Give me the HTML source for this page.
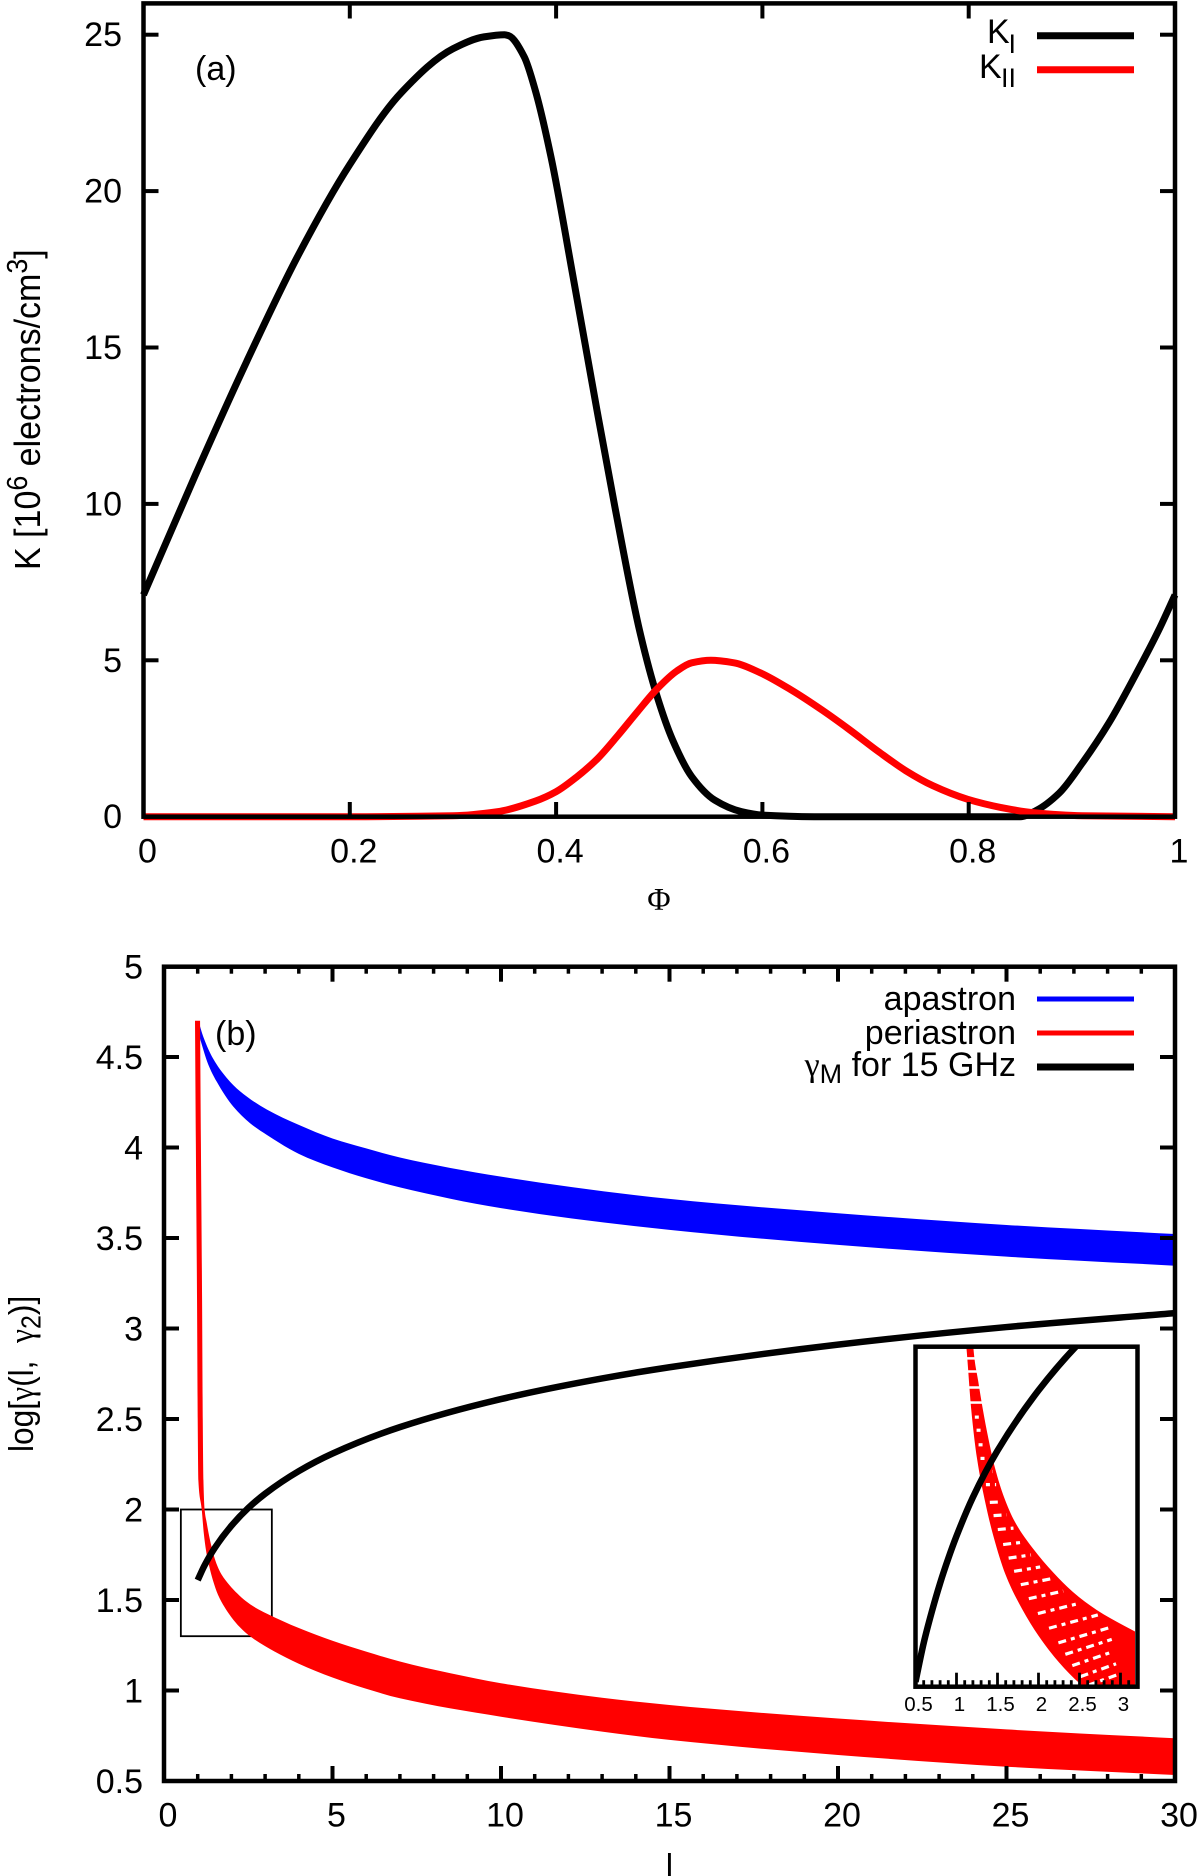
<!DOCTYPE html>
<html>
<head>
<meta charset="utf-8">
<title>K and gamma chart</title>
<style>
html,body{margin:0;padding:0;background:#fff;width:1200px;height:1876px;overflow:hidden}
svg{display:block}
text{font-family:"Liberation Sans","DejaVu Sans",sans-serif;fill:#000}
</style>
</head>
<body>
<svg id="chart" xmlns="http://www.w3.org/2000/svg" width="1200" height="1876" viewBox="0 0 1200 1876">
  <rect x="0" y="0" width="1200" height="1876" fill="#fff"/>
  <g id="panelA"></g>
  <g id="panelB"></g>
  <g id="inset"></g>

  <text transform="translate(40,570) rotate(-90) scale(1.03,1.1)" font-size="33">K [10<tspan font-size="26" dy="-12">6</tspan><tspan dy="12"> electrons/cm</tspan><tspan font-size="26" dy="-12">3</tspan><tspan dy="12">]</tspan></text>
  <text x="659" y="910" font-size="32" text-anchor="middle" style="font-family:'Liberation Serif',serif">Φ</text>
  <text x="195" y="80" font-size="34">(a)</text>
  <text x="987" y="43" font-size="34">K</text>
  <text x="1016" y="53" font-size="27" text-anchor="end">I</text>
  <text x="979" y="78" font-size="34">K</text>
  <text x="1016" y="87" font-size="27" text-anchor="end">II</text>
  <line x1="1037" x2="1134" y1="35.7" y2="35.7" stroke="#000" stroke-width="7"/>
  <line x1="1037" x2="1134" y1="69.7" y2="69.7" stroke="#f00" stroke-width="7"/>

  <text transform="translate(33,1452) rotate(-90) scale(0.96,1.05)" font-size="33" xml:space="preserve">log[<tspan style="font-family:'Liberation Serif',serif">γ</tspan>(l,  <tspan style="font-family:'Liberation Serif',serif">γ</tspan><tspan font-size="26" dy="7">2</tspan><tspan dy="-7">)]</tspan></text>
  <text x="669.4" y="1877" font-size="33" text-anchor="middle">l</text>
  <text x="215" y="1045" font-size="34">(b)</text>
  <text x="1016" y="1010" font-size="34" text-anchor="end">apastron</text>
  <text x="1016" y="1044" font-size="34" text-anchor="end">periastron</text>
  <text x="1016" y="1076" font-size="34" text-anchor="end"><tspan style="font-family:'Liberation Serif',serif">γ</tspan><tspan font-size="27" dy="7">M</tspan><tspan dy="-7"> for 15 GHz</tspan></text>
  <line x1="1037" x2="1134" y1="999" y2="999" stroke="#00f" stroke-width="5"/>
  <line x1="1037" x2="1134" y1="1033" y2="1033" stroke="#f00" stroke-width="5"/>
  <line x1="1037" x2="1134" y1="1067" y2="1067" stroke="#000" stroke-width="7"/>
</svg>
<script>
// Panel (a) data
const phaseK1 = [0,0.05,0.1,0.15,0.2,0.25,0.3,0.33,0.35,0.354,0.369,0.38,0.395,0.417,0.4396,0.457,0.4815,0.498,0.513,0.5315,0.5538,0.5798,0.6,0.65,0.7,0.8,0.85,0.8655,0.8876,0.9098,0.936,0.962,0.984,1];
const valuesK1 = [7.09,10.9,14.55,17.95,20.85,23.15,24.55,24.93,25,24.97,24.3,23.2,21.1,17.16,13.0,9.9,5.87,3.84,2.45,1.28,0.53,0.16,0.05,0,0,0,0,0.2,0.75,1.7,3.0,4.55,5.95,7.09];
const phaseK2 = [0,0.1,0.2,0.3,0.343,0.38,0.4,0.42,0.44,0.46,0.479,0.498,0.5167,0.5315,0.55,0.5724,0.598,0.628,0.6578,0.6837,0.713,0.739,0.7653,0.7987,0.832,0.862,0.91,1];
const valuesK2 = [0,0,0,0.03,0.16,0.5,0.8,1.27,1.85,2.6,3.36,4.09,4.65,4.92,5,4.92,4.6,4.05,3.41,2.8,2.07,1.47,0.99,0.56,0.29,0.13,0.03,0];
const panelAXTicks = [0,0.2,0.4,0.6,0.8,1];
const panelAYTicks = [0,5,10,15,20,25];

// Panel (b) data
const apastronUpperL = [1.02,1.17,1.46,1.86,2.26,3.05,4,5,6,7,10,15,20,25,30];
const apastronUpperV = [4.7,4.61,4.49,4.385,4.31,4.21,4.125,4.05,3.995,3.945,3.839,3.716,3.637,3.572,3.522];
const apastronLowerL = [1.07,1.31,1.56,2.06,2.55,3.05,4,5,6,7,10,15,20,25,30];
const apastronLowerV = [4.6,4.46,4.365,4.225,4.135,4.07,3.965,3.89,3.83,3.78,3.665,3.545,3.462,3.397,3.347];
const periUpperL = [1.07,1.10,1.13,1.15,1.17,1.21,1.264,1.317,1.39,1.47,1.58,1.71,1.93,2.18,2.42,2.71,3.05,4,5,6,7,8.5,10,13,15,17.5,20,25,30];
const periUpperV = [4.7,3.9,3.16,2.5,2.16,1.99,1.93,1.875,1.81,1.75,1.69,1.64,1.585,1.535,1.495,1.458,1.425,1.345,1.275,1.215,1.16,1.095,1.04,0.96,0.92,0.88,0.845,0.785,0.736];
const periLowerL = [0.92,0.95,0.98,1.0,1.02,1.12,1.18,1.25,1.35,1.45,1.6,1.8,2,2.25,2.5,3,4,5,6,7,10,13,15,20,25,30];
const periLowerV = [4.7,3.9,3.16,2.5,2.16,2.0,1.87,1.77,1.68,1.61,1.53,1.46,1.405,1.35,1.307,1.245,1.148,1.072,1.01,0.957,0.855,0.773,0.727,0.644,0.579,0.533];
const gammaML = [0.5,0.6,0.7,0.8,0.9,1,1.2,1.5,2,2.5,3,4,5,7,10,13,15,20,25,30];
const gammaMV = [1.31,1.39,1.455,1.513,1.564,1.61,1.69,1.786,1.91,2.008,2.087,2.212,2.309,2.455,2.61,2.724,2.786,2.911,3.008,3.085];
const panelBXTicks = [0,5,10,15,20,25,30];
const panelBYTicks = [0.5,1,1.5,2,2.5,3,3.5,4,4.5,5];
const insetXTicks = [0.5,1,1.5,2,2.5,3];
const insetGapLevels = [1.976,1.949,1.916,1.885,1.855,1.828,1.798,1.77,1.743,1.716,1.68,1.653,1.625,1.595,1.568,1.542,1.516,1.489,1.461,1.434,1.406,1.382,1.358,1.334,1.314];

const NS = 'http://www.w3.org/2000/svg';
function mk(tag, attrs, parent, txt){
  const el = document.createElementNS(NS, tag);
  for (const k in attrs) el.setAttribute(k, attrs[k]);
  if (txt !== undefined) el.textContent = txt;
  parent.appendChild(el);
  return el;
}
// axis functions
const xA = v => 143.5 + 1031.5 * v;
const yA = v => 816.7 - 31.28 * v;
const xB = v => 164 + 33.7 * v;
const yB = v => 1781 - 181 * (v - 0.5);
const xI = v => 915.5 + 82 * (v - 0.5);
const yI = v => 1346.7 + (2 - v) * 485.7;

// monotone cubic segments through data mapped to pixels
function segments(xs, ys, fx, fy){
  const p = xs.map((x, i) => [fx(x), fy(ys[i])]);
  const n = p.length, dx = [], m = [], t = new Array(n);
  for (let i = 0; i < n - 1; i++){
    dx[i] = p[i + 1][0] - p[i][0];
    m[i] = (p[i + 1][1] - p[i][1]) / dx[i];
  }
  t[0] = m[0]; t[n - 1] = m[n - 2];
  for (let i = 1; i < n - 1; i++){
    if (m[i - 1] * m[i] <= 0) t[i] = 0;
    else {
      const w1 = 2 * dx[i] + dx[i - 1], w2 = dx[i] + 2 * dx[i - 1];
      t[i] = (w1 + w2) / (w1 / m[i - 1] + w2 / m[i]);
    }
  }
  const segs = [];
  for (let i = 0; i < n - 1; i++){
    segs.push({
      a: p[i],
      c1: [p[i][0] + dx[i] / 3, p[i][1] + t[i] * dx[i] / 3],
      c2: [p[i + 1][0] - dx[i] / 3, p[i + 1][1] - t[i + 1] * dx[i] / 3],
      b: p[i + 1]
    });
  }
  return segs;
}
const f2 = q => q[0].toFixed(2) + ' ' + q[1].toFixed(2);
function curvePath(xs, ys, fx, fy){
  const s = segments(xs, ys, fx, fy);
  return 'M' + f2(s[0].a) + s.map(q => 'C' + f2(q.c1) + ' ' + f2(q.c2) + ' ' + f2(q.b)).join('');
}
function bandPath(uL, uV, lL, lV, fx, fy){
  const u = segments(uL, uV, fx, fy), l = segments(lL, lV, fx, fy);
  let d = 'M' + f2(u[0].a) + u.map(q => 'C' + f2(q.c1) + ' ' + f2(q.c2) + ' ' + f2(q.b)).join('');
  d += 'L' + f2(l[l.length - 1].b);
  for (let i = l.length - 1; i >= 0; i--) d += 'C' + f2(l[i].c2) + ' ' + f2(l[i].c1) + ' ' + f2(l[i].a);
  return d + 'Z';
}
function lAt(ls, vs, v){
  for (let i = 0; i < vs.length - 1; i++){
    if (vs[i] >= v && vs[i + 1] <= v){
      return ls[i] + (ls[i + 1] - ls[i]) * (vs[i] - v) / (vs[i] - vs[i + 1]);
    }
  }
  return ls[ls.length - 1];
}

/* ---------- Panel A ---------- */
const gA = document.getElementById('panelA');
const k1Line = mk('path', {d: curvePath(phaseK1, valuesK1, xA, yA), fill: 'none', stroke: '#000', 'stroke-width': 7, 'stroke-linejoin': 'round'}, gA);


const k2Line = mk('path', {d: curvePath(phaseK2, valuesK2, xA, yA), fill: 'none', stroke: '#f00', 'stroke-width': 7, 'stroke-linejoin': 'round'}, gA);


const frameA = mk('rect', {x: 143.5, y: 3.4, width: 1031.5, height: 813.3, fill: 'none', stroke: '#000', 'stroke-width': 4.5}, gA);


panelAXTicks.forEach(v => {
  if (v > 0 && v < 1){
    const t1 = mk('line', {x1: xA(v), x2: xA(v), y1: 816.7, y2: 802, stroke: '#000', 'stroke-width': 4}, gA);
    
    
    const t2 = mk('line', {x1: xA(v), x2: xA(v), y1: 3.4, y2: 18.5, stroke: '#000', 'stroke-width': 4}, gA);
    
    
  }
  const lb = mk('text', {x: xA(v) + 4, y: 862.7, 'font-size': 34, 'text-anchor': 'middle'}, gA, String(v));
  
  
});
panelAYTicks.forEach(v => {
  if (v > 0){
    const t1 = mk('line', {x1: 143.5, x2: 158.5, y1: yA(v), y2: yA(v), stroke: '#000', 'stroke-width': 4}, gA);
    
    
    const t2 = mk('line', {x1: 1175, x2: 1160, y1: yA(v), y2: yA(v), stroke: '#000', 'stroke-width': 4}, gA);
    
    
  }
  const lb = mk('text', {x: 122, y: yA(v) + 11.5, 'font-size': 34, 'text-anchor': 'end'}, gA, String(v));
  
  
});

/* ---------- Panel B ---------- */
const gB = document.getElementById('panelB');
const box = mk('rect', {x: xB(0.5), y: yB(2), width: xB(3.2) - xB(0.5), height: yB(1.3) - yB(2), fill: 'none', stroke: '#000', 'stroke-width': 1.8}, gB);


const blueBand = mk('path', {d: bandPath(apastronUpperL, apastronUpperV, apastronLowerL, apastronLowerV, xB, yB), fill: '#00f'}, gB);


const redBand = mk('path', {d: bandPath(periUpperL, periUpperV, periLowerL, periLowerV, xB, yB), fill: '#f00'}, gB);


const mainIdx = gammaML.map((l, i) => i).filter(i => gammaML[i] >= 1);
const gammaLine = mk('path', {d: curvePath(mainIdx.map(i => gammaML[i]), mainIdx.map(i => gammaMV[i]), xB, yB), fill: 'none', stroke: '#000', 'stroke-width': 6.5}, gB);


const frameB = mk('rect', {x: 164, y: 966.7, width: 1011, height: 814.3, fill: 'none', stroke: '#000', 'stroke-width': 4.5}, gB);


for (let i = 1; i < 30; i++){
  const major = i % 5 === 0;
  const len = major ? 15 : 7;
  const t1 = mk('line', {x1: xB(i), x2: xB(i), y1: 1781, y2: 1781 - len, stroke: '#000', 'stroke-width': major ? 4 : 3.5}, gB);
  
  
  const t2 = mk('line', {x1: xB(i), x2: xB(i), y1: 966.7, y2: 966.7 + len, stroke: '#000', 'stroke-width': major ? 4 : 3.5}, gB);
  
  
}
panelBXTicks.forEach(v => {
  const lb = mk('text', {x: xB(v) + 4, y: 1826.7, 'font-size': 34, 'text-anchor': 'middle'}, gB, String(v));
  
  
});
panelBYTicks.forEach(v => {
  if (v > 0.5 && v < 5){
    const t1 = mk('line', {x1: 164, x2: 179, y1: yB(v), y2: yB(v), stroke: '#000', 'stroke-width': 4}, gB);
    
    
    const t2 = mk('line', {x1: 1175, x2: 1160, y1: yB(v), y2: yB(v), stroke: '#000', 'stroke-width': 4}, gB);
    
    
  }
  const lb = mk('text', {x: 143, y: yB(v) + 12, 'font-size': 34, 'text-anchor': 'end'}, gB, String(v));
  
  
});

/* ---------- Inset ---------- */
const gI = document.getElementById('inset');
const defs = mk('defs', {}, gI);
const clip = mk('clipPath', {id: 'insetClip'}, defs);
mk('rect', {x: 915.5, y: 1346.7, width: 219.5, height: 340}, clip);
const clipB = mk('clipPath', {id: 'insetClipBlack'}, defs);
mk('rect', {x: 915.5, y: 1346.7, width: 222, height: 340}, clipB);
const insetBg = mk('rect', {x: 915.5, y: 1346.7, width: 222, height: 340, fill: '#fff'}, gI);


const insetClipG = mk('g', {'clip-path': 'url(#insetClip)'}, gI);
const insetBand = mk('path', {d: bandPath(periUpperL, periUpperV, periLowerL, periLowerV, xI, yI), fill: '#f00'}, insetClipG);


insetGapLevels.forEach(v => {
  const x0 = xI(lAt(periLowerL, periLowerV, v));
  const x1 = Math.min(xI(lAt(periUpperL, periUpperV, v)), 1130);
  const w = x1 - x0;
  const narrow = v > 1.86;
  const m = narrow ? -1 : w * 0.22;
  const tilt = narrow ? 0 : Math.min(0.36, Math.max(0, (1.72 - v) * 0.95));
  const xc = (x0 + x1) / 2, yc = yI(v);
  const ax = x0 + m, bx = x1 - m;
  const row = mk('line', {
    x1: ax, x2: bx,
    y1: yc + tilt * (xc - ax), y2: yc - tilt * (bx - xc),
    stroke: '#fff', 'stroke-width': narrow ? 2.5 : 3.2
  }, insetClipG);
  if (!narrow) row.setAttribute('stroke-dasharray', v > 1.7 ? '4 5' : '8 5 4 5');
  
  
});
const insetBlackG = mk('g', {'clip-path': 'url(#insetClipBlack)'}, gI);
const insetGamma = mk('path', {d: curvePath(gammaML.slice(0, 11), gammaMV.slice(0, 11), xI, yI), fill: 'none', stroke: '#000', 'stroke-width': 6.5}, insetBlackG);


const insetFrame = mk('rect', {x: 915.5, y: 1346.7, width: 222, height: 340, fill: 'none', stroke: '#000', 'stroke-width': 4.5}, gI);


for (let i = 6; i <= 31; i++){
  const val = i / 10;
  const major = i % 5 === 0;
  const t = mk('line', {x1: xI(val), x2: xI(val), y1: 1686.7, y2: 1686.7 - (major ? 14 : 6.5), stroke: '#000', 'stroke-width': 2.8}, gI);
  
  
}
insetXTicks.forEach(v => {
  const lb = mk('text', {x: xI(v) + 3, y: 1711, 'font-size': 20.5, 'text-anchor': 'middle'}, gI, String(v));
  
  
});
</script>
</body>
</html>
